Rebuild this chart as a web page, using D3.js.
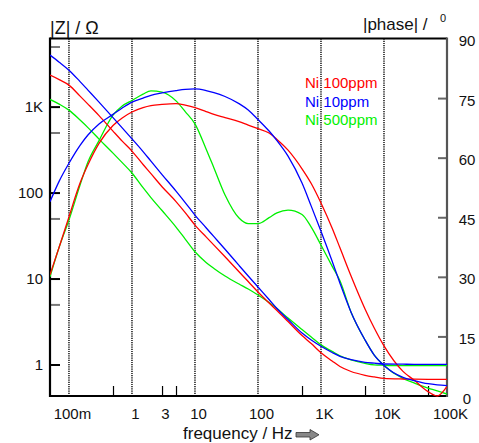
<!DOCTYPE html>
<html><head><meta charset="utf-8">
<script src="https://cdn.jsdelivr.net/npm/d3@7"></script>
<style>
body{margin:0;background:#fff}
svg{display:block}
text{font-family:"Liberation Sans",Arial,Helvetica,sans-serif}
</style>
</head><body>
<svg id="chart" width="479" height="443"></svg>
<script>
// ---------- data ----------
const freq = [0.05,0.07,0.1,0.15,0.2,0.3,0.5,0.7,1,1.5,2,3,5,7,10,15,20,30,50,70,100,150,200,300,500,700,1000,1500,2000,3000,5000,7000,10000,20000,30000,50000,70000,100000];

const zNi100 = [2324,2061,1778,1324,1069,786,519,397,304,212,166,117,78.6,58.5,41.9,30.5,24.5,17.9,12.0,9.23,6.97,5.19,4.25,3.16,2.17,1.75,1.37,1.10,0.948,0.829,0.749,0.716,0.688,0.678,0.675,0.673,0.673,0.673];
const zNi10 = [3970,3290,2656,1954,1556,1128,745,565,422,300,232,162,104,76.5,54.7,39.0,30.7,21.9,14.2,10.7,7.96,5.70,4.48,3.34,2.32,1.93,1.63,1.38,1.24,1.14,1.06,1.035,1.013,1.008,1.005,1.005,1.005,1.005];
const zNi500 = [1213,1069,910,697,570,419,288,223,169,114,87.5,61.8,39.7,28.8,20.5,15.4,13.1,10.7,8.63,7.55,6.43,5.26,4.48,3.47,2.55,2.09,1.69,1.42,1.26,1.13,1.03,0.99,0.98,0.97,0.97,0.97,0.97,0.97];

const phNi100 = [30.5,37.5,45.1,53.6,58.2,63.6,68.1,70.0,71.5,72.6,73.1,73.4,73.6,73.2,72.6,71.6,70.9,70.1,69.1,68.2,67.3,66.2,64.6,61.9,57.2,53.5,48.6,42.3,37.3,30.2,21.9,17.1,12.6,6.2,4.0,1.1,0,2.4];
const phNi10 = [48.9,54.1,58.6,63.1,65.7,68.5,70.9,72.5,74.0,75.0,75.7,76.3,76.9,77.2,77.3,76.9,76.4,75.4,73.6,72.0,69.6,66.7,64.3,60.4,53.6,47.8,41.5,34.0,28.4,21.1,14.1,10.3,7.7,4.7,3.9,3.1,2.8,2.6];
const phNi500 = [30.0,37.5,44.3,53.1,58.9,64.3,70.7,73.0,74.4,76.0,76.8,76.5,74.3,71.6,68.5,62.2,57.4,50.6,44.8,43.4,43.4,44.9,46.1,46.8,45.7,42.5,38.0,32.7,29.0,21.1,14.1,10.3,7.7,4.4,3.3,2.0,1.3,0.5];

const seriesNames = ["Ni 100ppm","Ni 10ppm","Ni 500ppm"];
const seriesColors = ["#ff0000","#0000ff","#00f000"];

const xTickValues = [0.1,1,3,10,100,1000,10000,100000];
const xTickLabels = ["100m","1","3","10","100","1K","10K","100K"];
const xGridValues = [0.1,1,10,100,1000,10000];
const xMinorTicks = [0.5,3,5,500,5000,50000];
const zTickValues = [1,10,100,1000];
const zTickLabels = ["1","10","100","1K"];
const zMinorTicks = [5,50,500,5000];
const phaseTickValues = [0,15,30,45,60,75,90];

// ---------- layout ----------
const svg = d3.select("#chart");
const L = 50, R = 447, T = 38.5, B = 396;
const x = d3.scaleLog().domain([0.05,100000]).range([L,R]);
const yZ = d3.scaleLog().domain([0.43,6200]).range([B,T]);
const yP = d3.scaleLinear().domain([0,90]).range([B,T]);

// grid lines (dotted)
svg.append("g").selectAll("line").data(xGridValues).join("line")
  .attr("x1",d=>x(d)).attr("x2",d=>x(d)).attr("y1",T).attr("y2",B)
  .attr("stroke","#000").attr("stroke-width",1.4).attr("stroke-dasharray","1.2,1");

// left axis ticks (inward)
const gL = svg.append("g").attr("transform",`translate(${L},0)`)
  .call(d3.axisRight(yZ).tickValues(zTickValues).tickSize(10).tickFormat(""));
gL.select(".domain").remove();
gL.selectAll("line").attr("stroke","#000").attr("stroke-width",2);
const gLm = svg.append("g").attr("transform",`translate(${L},0)`)
  .call(d3.axisRight(yZ).tickValues(zMinorTicks).tickSize(10).tickFormat(""));
gLm.select(".domain").remove();
gLm.selectAll("line").attr("stroke","#777").attr("stroke-width",2);
svg.append("g").selectAll("text").data(zTickValues).join("text")
  .attr("x",43).attr("y",d=>yZ(d)+5.5).attr("text-anchor","end")
  .attr("font-size",15).attr("fill","#111")
  .text((d,i)=>zTickLabels[i]);

// right axis ticks (inward)
const gR = svg.append("g").attr("transform",`translate(${R},0)`)
  .call(d3.axisLeft(yP).tickValues(phaseTickValues.slice(1,-1)).tickSize(9).tickFormat(""));
gR.select(".domain").remove();
gR.selectAll("line").attr("stroke","#666").attr("stroke-width",2);
svg.append("g").selectAll("text").data(phaseTickValues).join("text")
  .attr("x",467).attr("y",d=>yP(d)+7.5).attr("text-anchor","middle")
  .attr("font-size",15).attr("fill","#111")
  .text(d=>d);

// bottom axis minor ticks (inward)
const gB = svg.append("g").attr("transform",`translate(0,${B})`)
  .call(d3.axisTop(x).tickValues(xMinorTicks).tickSize(10).tickFormat(""));
gB.select(".domain").remove();
gB.selectAll("line").attr("stroke","#000").attr("stroke-width",1.2);
svg.append("g").selectAll("text").data(xTickValues).join("text")
  .attr("x",d=>x(d)+3.5).attr("y",418.5).attr("text-anchor","middle")
  .attr("font-size",15).attr("fill","#111")
  .text((d,i)=>xTickLabels[i]);

// frame
svg.append("line").attr("x1",L).attr("x2",R).attr("y1",T).attr("y2",T).attr("stroke","#000").attr("stroke-width",2);
svg.append("line").attr("x1",L).attr("x2",R+1).attr("y1",B).attr("y2",B).attr("stroke","#000").attr("stroke-width",2);
svg.append("line").attr("x1",L).attr("x2",L).attr("y1",T-1).attr("y2",B+1).attr("stroke","#000").attr("stroke-width",2.2);
svg.append("line").attr("x1",R).attr("x2",R).attr("y1",T-1).attr("y2",B+1).attr("stroke","#555").attr("stroke-width",2.2);

// curves
svg.append("clipPath").attr("id","plotclip").append("rect")
  .attr("x",L).attr("y",T).attr("width",R-L).attr("height",B-T+1);
const plot = svg.append("g").attr("clip-path","url(#plotclip)");
const zSeries = [zNi100, zNi10, zNi500];
const pSeries = [phNi100, phNi10, phNi500];
const order = [2,0,1];
const lineZ = d3.line().x((d,i)=>x(freq[i])).y(d=>yZ(d)).curve(d3.curveMonotoneX);
const lineP = d3.line().x((d,i)=>x(freq[i])).y(d=>yP(d)).curve(d3.curveMonotoneX);
order.forEach(k=>{
  plot.append("path").attr("d",lineZ(zSeries[k])).attr("fill","none")
    .attr("stroke",seriesColors[k]).attr("stroke-width",1.3);
  plot.append("path").attr("d",lineP(pSeries[k])).attr("fill","none")
    .attr("stroke",seriesColors[k]).attr("stroke-width",1.3);
});

// legend
svg.append("g").selectAll("text").data(seriesNames).join("text")
  .attr("x",305).attr("y",(d,i)=>88.3+i*18.3)
  .attr("font-size",15).attr("fill",(d,i)=>seriesColors[i])
  .text(d=>d);

// titles
svg.append("text").attr("x",50).attr("y",33.5).attr("font-size",18).attr("fill","#111").text("|Z| / Ω");
svg.append("text").attr("x",363).attr("y",30).attr("font-size",17).attr("fill","#111").text("|phase| /");
svg.append("text").attr("x",440).attr("y",22).attr("font-size",11).attr("fill","#111").text("0");
svg.append("text").attr("x",183).attr("y",439).attr("font-size",17).attr("fill","#111").text("frequency / Hz");
// arrow
svg.append("path")
  .attr("d","M296,432.5 L310,432.5 L310,429.5 L319,434.8 L310,440 L310,437 L296,437 Z")
  .attr("fill","#888").attr("stroke","#333").attr("stroke-width",0.8);
</script>
</body></html>
